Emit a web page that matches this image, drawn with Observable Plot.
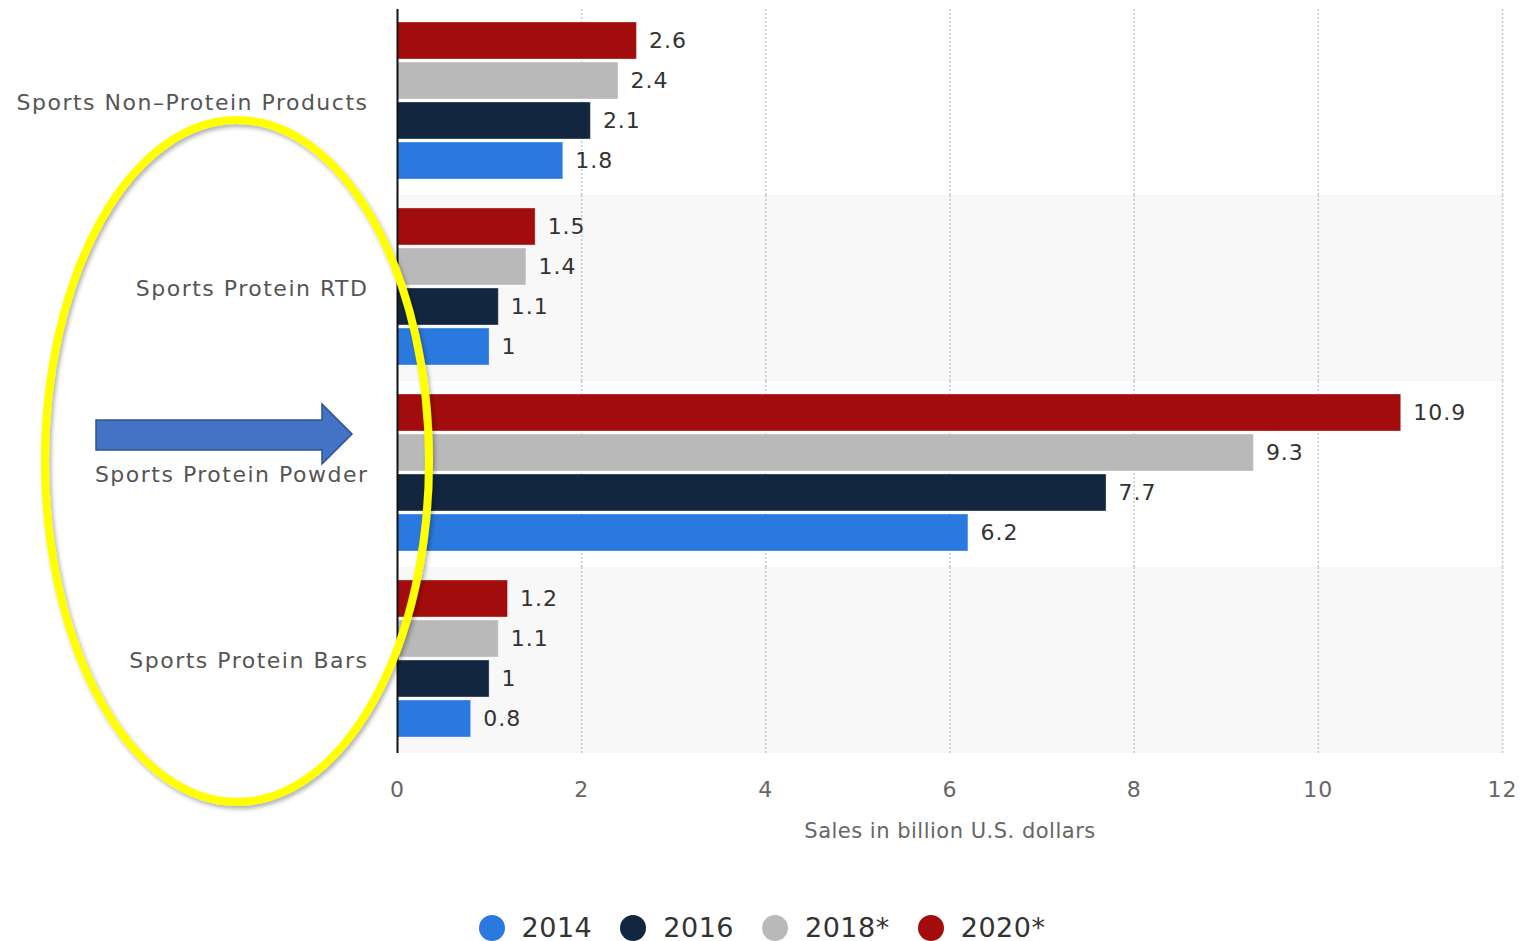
<!DOCTYPE html>
<html>
<head>
<meta charset="utf-8">
<script src="https://cdn.jsdelivr.net/npm/d3@7"></script>
<script src="https://cdn.jsdelivr.net/npm/@observablehq/plot@0.6"></script>
<style>
  html, body { margin: 0; padding: 0; background: #fff; }
  body { width: 1524px; height: 941px; position: relative; overflow: hidden; font-family: "DejaVu Sans", sans-serif; }
  #chart svg text { letter-spacing: 1px; }
  #chart svg g[aria-label="fy-axis tick label"] text { letter-spacing: 1.5px; }
  #chart svg g[aria-label="x-axis label"] { font-size: 21px; }
  #chart svg g[aria-label="x-axis label"] text { letter-spacing: 0.5px; }
  #legend { position: absolute; left: 0; top: 912px; width: 1524px; display: flex; justify-content: center; align-items: center; font-size: 27px; color: #333; letter-spacing: 0.5px; }
  .item { display: flex; align-items: center; margin: 0 14px; }
  .dot { width: 26px; height: 26px; border-radius: 50%; margin-right: 17px; }
  #overlay { position: absolute; left: 0; top: 0; pointer-events: none; }
</style>
</head>
<body>
<div id="chart"></div>
<div id="legend"></div>
<svg id="overlay" width="1524" height="941"></svg>
<script>
const categories = ["Sports Non–Protein Products", "Sports Protein RTD", "Sports Protein Powder", "Sports Protein Bars"];
const years = ["2014", "2016", "2018*", "2020*"];
const colors = ["#2a79de", "#12263f", "#b9b9b9", "#a30c0c"];
const sales2014 = [1.8, 1.0, 6.2, 0.8];
const sales2016 = [2.1, 1.1, 7.7, 1.0];
const sales2018 = [2.4, 1.4, 9.3, 1.1];
const sales2020 = [2.6, 1.5, 10.9, 1.2];
const xTicks = [0, 2, 4, 6, 8, 10, 12];
const shaded = ["Sports Protein RTD", "Sports Protein Bars"];

const series = [sales2014, sales2016, sales2018, sales2020];
const data = [];
categories.forEach((c, i) => years.forEach((y, j) => data.push({cat: c, year: y, value: series[j][i]})));

const chart = Plot.plot({
  width: 1524,
  height: 860,
  marginLeft: 397,
  marginRight: 22,
  marginTop: 8,
  marginBottom: 106,
  style: {fontFamily: "DejaVu Sans, sans-serif", background: "transparent"},
  x: {domain: [0, 12], ticks: xTicks},
  y: {domain: years.slice().reverse(), paddingInner: 0.075, paddingOuter: 0.36, align: 0.45, axis: null},
  fy: {domain: categories, padding: 0},
  color: {domain: years, range: colors},
  marks: [
    Plot.rect(shaded, {fy: d => d, x1: 0, x2: 12, fill: "#f8f8f8"}),
    Plot.ruleX(xTicks.slice(1), {stroke: "#c8c8c8", strokeWidth: 1.5, strokeDasharray: "2,2"}),
    Plot.barX(data, {fy: "cat", y: "year", x: "value", fill: "year", stroke: "#fff", strokeOpacity: 0.35, strokeWidth: 1}),
    Plot.text(data, {fy: "cat", y: "year", x: "value", text: d => String(d.value), dx: 12, textAnchor: "start", fontSize: 22, fill: "#333"}),
    Plot.ruleX([0], {stroke: "#111", strokeWidth: 2}),
    Plot.axisFy({anchor: "left", tickSize: 0, tickPadding: 29, fontSize: 22, color: "#555", label: null}),
    Plot.axisX({ticks: xTicks, tickSize: 0, tickPadding: 28, fontSize: 22, color: "#666", label: "Sales in billion U.S. dollars", labelAnchor: "center", labelOffset: 84, labelArrow: false})
  ]
});
document.getElementById("chart").appendChild(chart);

const legend = document.getElementById("legend");
years.forEach((y, i) => {
  const it = document.createElement("div");
  it.className = "item";
  it.innerHTML = `<span class="dot" style="background:${colors[i]}"></span><span>${y}</span>`;
  legend.appendChild(it);
});

const ov = d3.select("#overlay");
const defs = ov.append("defs");
const f = defs.append("filter").attr("id", "sh").attr("x", "-10%").attr("y", "-10%").attr("width", "120%").attr("height", "120%");
f.append("feDropShadow").attr("dx", 2).attr("dy", 3).attr("stdDeviation", 2).attr("flood-color", "#000").attr("flood-opacity", 0.3);
ov.append("polygon")
  .attr("points", "96,420 322,420 322,404 352,434 322,464 322,450 96,450")
  .attr("fill", "#4472c4").attr("stroke", "#2f528f").attr("stroke-width", 1.5);
ov.append("ellipse")
  .attr("cx", 237).attr("cy", 461).attr("rx", 192).attr("ry", 341)
  .attr("fill", "none").attr("stroke", "#ffff00").attr("stroke-width", 8).attr("filter", "url(#sh)");
</script>
</body>
</html>
